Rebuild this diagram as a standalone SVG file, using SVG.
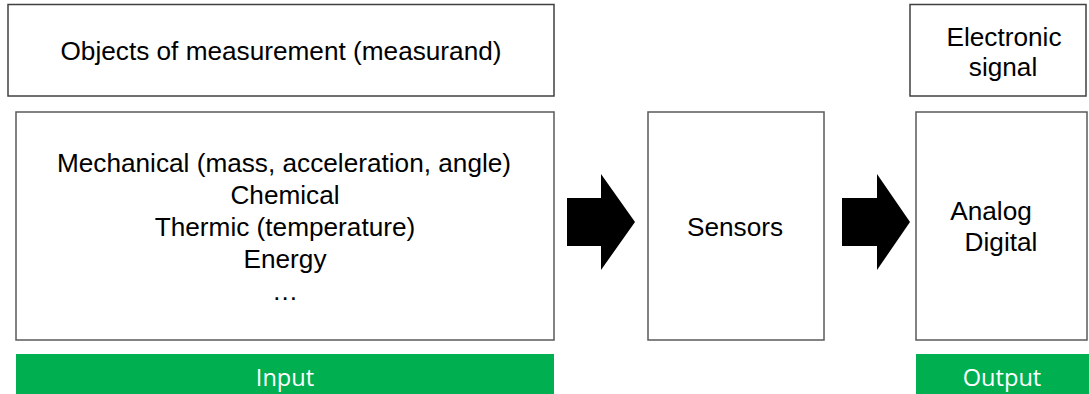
<svg xmlns="http://www.w3.org/2000/svg" width="1089" height="394" viewBox="0 0 1089 394">
  <style>
    .box { fill: #ffffff; stroke: #404040; stroke-width: 1.5; }
    .box2 { fill: #ffffff; stroke: #5a5a5a; stroke-width: 1.5; }
    .lbl { font-family: "Liberation Sans", Arial, sans-serif; font-size: 26.2px; fill: #000000; text-anchor: middle; }
    .bar { fill: #00b050; }
    .barlbl { font-family: "Open Sans", "Liberation Sans", sans-serif; font-size: 23.6px; fill: #ffffff; text-anchor: middle; }
    .arrow { fill: #000000; }
  </style>

  <g id="measurand-title">
    <rect class="box" x="8" y="4.5" width="546" height="91.5"/>
    <text class="lbl" x="281" y="60">Objects of measurement (measurand)</text>
  </g>

  <g id="measurand-list">
    <rect class="box2" x="16" y="112" width="538" height="228"/>
    <text class="lbl" x="284" y="172">Mechanical (mass, acceleration, angle)</text>
    <text class="lbl" x="285" y="204">Chemical</text>
    <text class="lbl" x="285" y="236">Thermic (temperature)</text>
    <text class="lbl" x="285" y="268">Energy</text>
    <text class="lbl" x="285" y="300">…</text>
  </g>

  <g id="input-bar">
    <rect class="bar" x="16" y="354" width="538" height="40"/>
    <text class="barlbl" x="285" y="386">Input</text>
  </g>

  <g id="sensors">
    <rect class="box2" x="648" y="112" width="176" height="228"/>
    <text class="lbl" x="735" y="236">Sensors</text>
  </g>

  <g id="signal-title">
    <rect class="box" x="910" y="4.5" width="176" height="91.5"/>
    <text class="lbl" x="1004" y="46">Electronic</text>
    <text class="lbl" x="1003" y="76">signal</text>
  </g>

  <g id="signal-types">
    <rect class="box2" x="916" y="112" width="171" height="228"/>
    <text class="lbl" x="991" y="220">Analog</text>
    <text class="lbl" x="1001" y="251">Digital</text>
  </g>

  <g id="output-bar">
    <rect class="bar" x="916" y="354" width="173" height="40"/>
    <text class="barlbl" x="1002" y="386">Output</text>
  </g>

  <g id="connectors">
    <polygon class="arrow" points="567,198 601,198 601,174 635,222 601,270 601,246 567,246"/>
    <polygon class="arrow" points="842,198 877,198 877,174 910,222 877,270 877,246 842,246"/>
  </g>
</svg>
